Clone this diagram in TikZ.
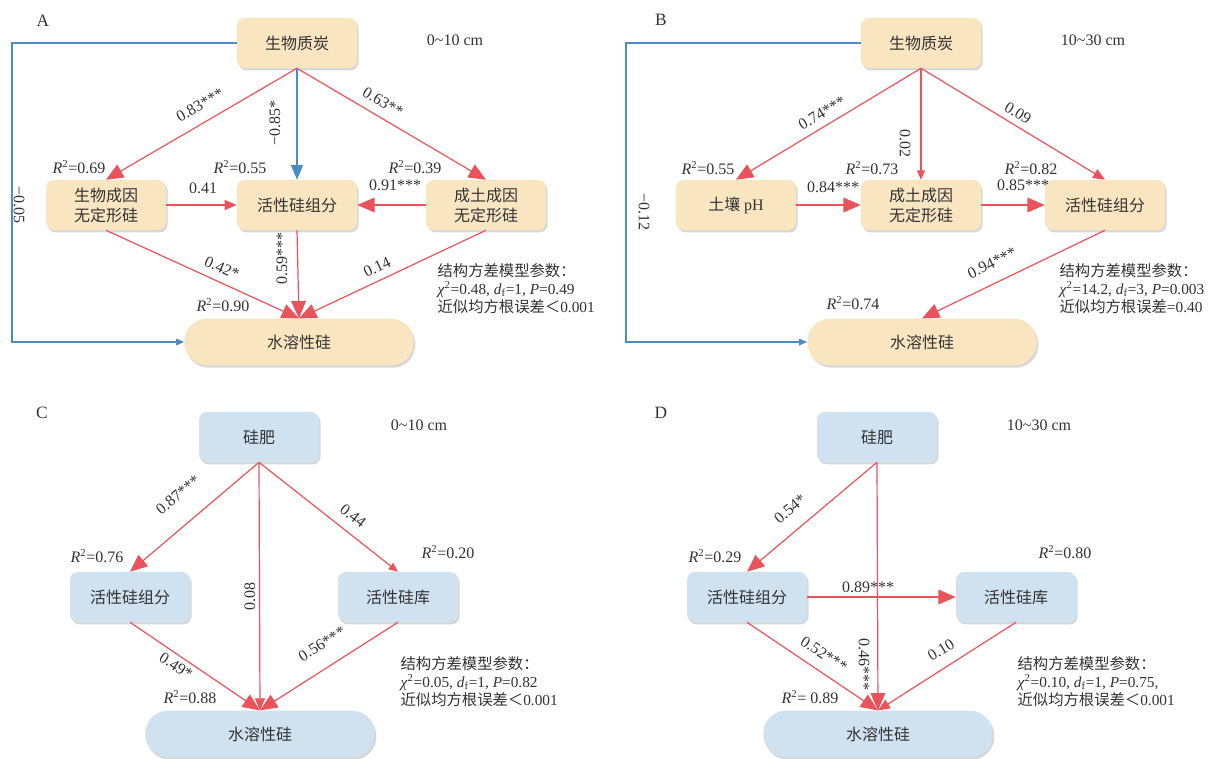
\documentclass[tikz,border=0pt]{standalone}
\usepackage{fontspec}
\setmainfont{Liberation Serif}
\newfontfamily\cjk{Noto Sans CJK SC}
\usetikzlibrary{arrows.meta,shadows}
\definecolor{tanfill}{HTML}{F9E6C1}
\definecolor{skyfill}{HTML}{D0E1F0}
\definecolor{arrred}{HTML}{E9535C}
\definecolor{negblue}{HTML}{4A8CC8}
\definecolor{ink}{HTML}{333333}
\newcommand{\rsq}[1]{\textit{R}\textsuperscript{2}=#1}

\begin{document}
\begin{tikzpicture}[x=0.75pt,y=-0.75pt,
  box/.style={rounded corners=6pt,minimum width=90pt,minimum height=37.5pt,align=center,
    font=\cjk\fontsize{12}{15}\selectfont,text=ink,
    drop shadow={shadow xshift=1.2pt,shadow yshift=-1.8pt,opacity=.3}},
  tan/.style={box,fill=tanfill},
  sky/.style={box,fill=skyfill},
  pill/.style={rounded corners=17pt,minimum width=172pt,minimum height=35pt},
  arr/.style={-{Triangle[length=13pt,width=11pt]},line width=.9pt,draw=arrred},
  arrm/.style={arr,-{Triangle[length=9pt,width=7.5pt]}},
  arrs/.style={arr,-{Triangle[length=7pt,width=6pt]}},
  neg/.style={arr,draw=negblue,-{Triangle[length=11pt,width=9pt]}},
  negs/.style={arr,draw=negblue,-{Triangle[length=6pt,width=5pt]}},
  lbl/.style={font=\fontsize{12}{14}\selectfont,text=ink,inner sep=1pt},
  note/.style={lbl,font=\fontsize{11.5}{13.5}\selectfont,align=left,anchor=north west},
  tag/.style={font=\fontsize{13}{15}\selectfont,text=ink}]
\path[fill=white,use as bounding box] (0,0) rectangle (1210,758);

% A: biochar, 0-10 cm
\node[tag] (tA) at (43,21) {A};
\node[lbl] (dA) at (455,40) {0\textasciitilde10 cm};
\node[tan] (bioA) at (297,43) {生物质炭};
\node[tan] (bfA) at (106,205) {生物成因\\无定形硅};
\node[tan] (actA) at (297,205) {活性硅组分};
\node[tan] (sfA) at (486,205) {成土成因\\无定形硅};
\node[tan,pill] (waterA) at (299,342) {水溶性硅};
\coordinate (cA) at (12,43);
\draw[negs] (bioA.west) -- (cA) |- (waterA.west);
\draw[arr] (bioA.south) -- (bfA.north);
\draw[neg] (bioA.south) -- (actA.north);
\draw[arr] (bioA.south) -- (sfA.north);
\draw[arrm] (bfA.east) -- (actA.west);
\draw[arr] (sfA.west) -- (actA.east);
\draw[arr] (bfA.south) -- (waterA.north);
\draw[arr] (actA.south) -- (waterA.north);
\draw[arr] (sfA.south) -- (waterA.north);
\node[lbl,rotate=-90] (lA1) at (19,205) {−0.05};
\node[lbl,rotate=30] (lA2) at (200,105) {0.83***};
\node[lbl,rotate=90] (lA3) at (275,123) {−0.85*};
\node[lbl,rotate=-31] (lA4) at (383,102) {0.63**};
\node[lbl] (rA1) at (79,167) {\rsq{0.69}};
\node[lbl] (rA2) at (240,167) {\rsq{0.55}};
\node[lbl] (rA3) at (415,167) {\rsq{0.39}};
\node[lbl] (lA5) at (203,188) {0.41};
\node[lbl] (lA6) at (395,185) {0.91***};
\node[lbl,rotate=90] (lA7) at (282,258) {0.59***};
\node[lbl,rotate=-24] (lA8) at (222,268) {0.42*};
\node[lbl,rotate=25] (lA9) at (377,267) {0.14};
\node[lbl] (rA4) at (223,305) {\rsq{0.90}};
\node[note] (nA) at (436,262) {{\cjk 结构方差模型参数：}\\
  \textit{χ}\textsuperscript{2}=0.48, \textit{d}\textsubscript{f}=1, \textit{P}=0.49\\
  {\cjk 近似均方根误差＜}0.001};

% B: biochar, 10-30 cm
\node[tag] (tB) at (661,20) {B};
\node[lbl] (dB) at (1093,40) {10\textasciitilde30 cm};
\node[tan] (bioB) at (921,43) {生物质炭};
\node[tan] (phB) at (736,205) {土壤 {\rmfamily pH}};
\node[tan] (sfB) at (921,205) {成土成因\\无定形硅};
\node[tan] (actB) at (1105,205) {活性硅组分};
\node[tan,pill] (waterB) at (922,342) {水溶性硅};
\coordinate (cB) at (626,43);
\draw[negs] (bioB.west) -- (cB) |- (waterB.west);
\draw[arr] (bioB.south) -- (phB.north);
\draw[arrs] (bioB.south) -- (sfB.north);
\draw[arrm] (bioB.south) -- (actB.north);
\draw[arr] (phB.east) -- (sfB.west);
\draw[arr] (sfB.east) -- (actB.west);
\draw[arr] (actB.south) -- (waterB.north);
\node[lbl,rotate=-90] (lB1) at (644,212) {−0.12};
\node[lbl,rotate=31] (lB2) at (822,113) {0.74***};
\node[lbl,rotate=-90] (lB3) at (905,143) {0.02};
\node[lbl,rotate=-31] (lB4) at (1018,113) {0.09};
\node[lbl] (rB1) at (708,168) {\rsq{0.55}};
\node[lbl] (rB2) at (872,168) {\rsq{0.73}};
\node[lbl] (rB3) at (1031,168) {\rsq{0.82}};
\node[lbl] (lB5) at (833,187) {0.84***};
\node[lbl] (lB6) at (1023,185) {0.85***};
\node[lbl,rotate=26] (lB7) at (992,263) {0.94***};
\node[lbl] (rB4) at (853,303) {\rsq{0.74}};
\node[note] (nB) at (1058,262) {{\cjk 结构方差模型参数：}\\
  \textit{χ}\textsuperscript{2}=14.2, \textit{d}\textsubscript{f}=3, \textit{P}=0.003\\
  {\cjk 近似均方根误差}=0.40};

% C: silicon fertilizer, 0-10 cm
\node[tag] (tC) at (42,413) {C};
\node[lbl] (dC) at (419,425) {0\textasciitilde10 cm};
\node[sky] (fertC) at (259,437) {硅肥};
\node[sky] (actC) at (130,597) {活性硅组分};
\node[sky] (poolC) at (398,597) {活性硅库};
\node[sky,pill] (waterC) at (260,734) {水溶性硅};
\draw[arr] (fertC.south) -- (actC.north);
\draw[arrm] (fertC.south) -- (waterC.north);
\draw[arrs] (fertC.south) -- (poolC.north);
\draw[arr] (actC.south) -- (waterC.north);
\draw[arr] (poolC.south) -- (waterC.north);
\node[lbl,rotate=40] (lC1) at (178,495) {0.87***};
\node[lbl,rotate=90] (lC2) at (250,596) {0.08};
\node[lbl,rotate=-38] (lC3) at (353,516) {0.44};
\node[lbl] (rC1) at (97,556) {\rsq{0.76}};
\node[lbl] (rC2) at (448,552) {\rsq{0.20}};
\node[lbl,rotate=-33] (lC4) at (176,666) {0.49*};
\node[lbl,rotate=32] (lC5) at (322,644) {0.56***};
\node[lbl] (rC3) at (190,697) {\rsq{0.88}};
\node[note] (nC) at (399,655) {{\cjk 结构方差模型参数：}\\
  \textit{χ}\textsuperscript{2}=0.05, \textit{d}\textsubscript{f}=1, \textit{P}=0.82\\
  {\cjk 近似均方根误差＜}0.001};

% D: silicon fertilizer, 10-30 cm
\node[tag] (tD) at (661,413) {D};
\node[lbl] (dD) at (1039,425) {10\textasciitilde30 cm};
\node[sky] (fertD) at (877,437) {硅肥};
\node[sky] (actD) at (747,597) {活性硅组分};
\node[sky] (poolD) at (1016,597) {活性硅库};
\node[sky,pill] (waterD) at (878,734) {水溶性硅};
\draw[arr] (fertD.south) -- (actD.north);
\draw[arr] (fertD.south) -- (waterD.north);
\draw[arr] (actD.east) -- (poolD.west);
\draw[arr] (actD.south) -- (waterD.north);
\draw[arrm] (poolD.south) -- (waterD.north);
\node[lbl,rotate=40] (lD1) at (790,509) {0.54*};
\node[lbl] (lD2) at (868,587) {0.89***};
\node[lbl] (rD1) at (715,556) {\rsq{0.29}};
\node[lbl] (rD2) at (1065,552) {\rsq{0.80}};
\node[lbl,rotate=-33] (lD3) at (824,654) {0.52***};
\node[lbl,rotate=-90] (lD4) at (864,664) {0.46***};
\node[lbl,rotate=32] (lD5) at (941,650) {0.10};
\node[lbl] (rD3) at (810,697) {\textit{R}\textsuperscript{2}= 0.89};
\node[note] (nD) at (1016,655) {{\cjk 结构方差模型参数：}\\
  \textit{χ}\textsuperscript{2}=0.10, \textit{d}\textsubscript{f}=1, \textit{P}=0.75,\\
  {\cjk 近似均方根误差＜}0.001};
\end{tikzpicture}
\end{document}
